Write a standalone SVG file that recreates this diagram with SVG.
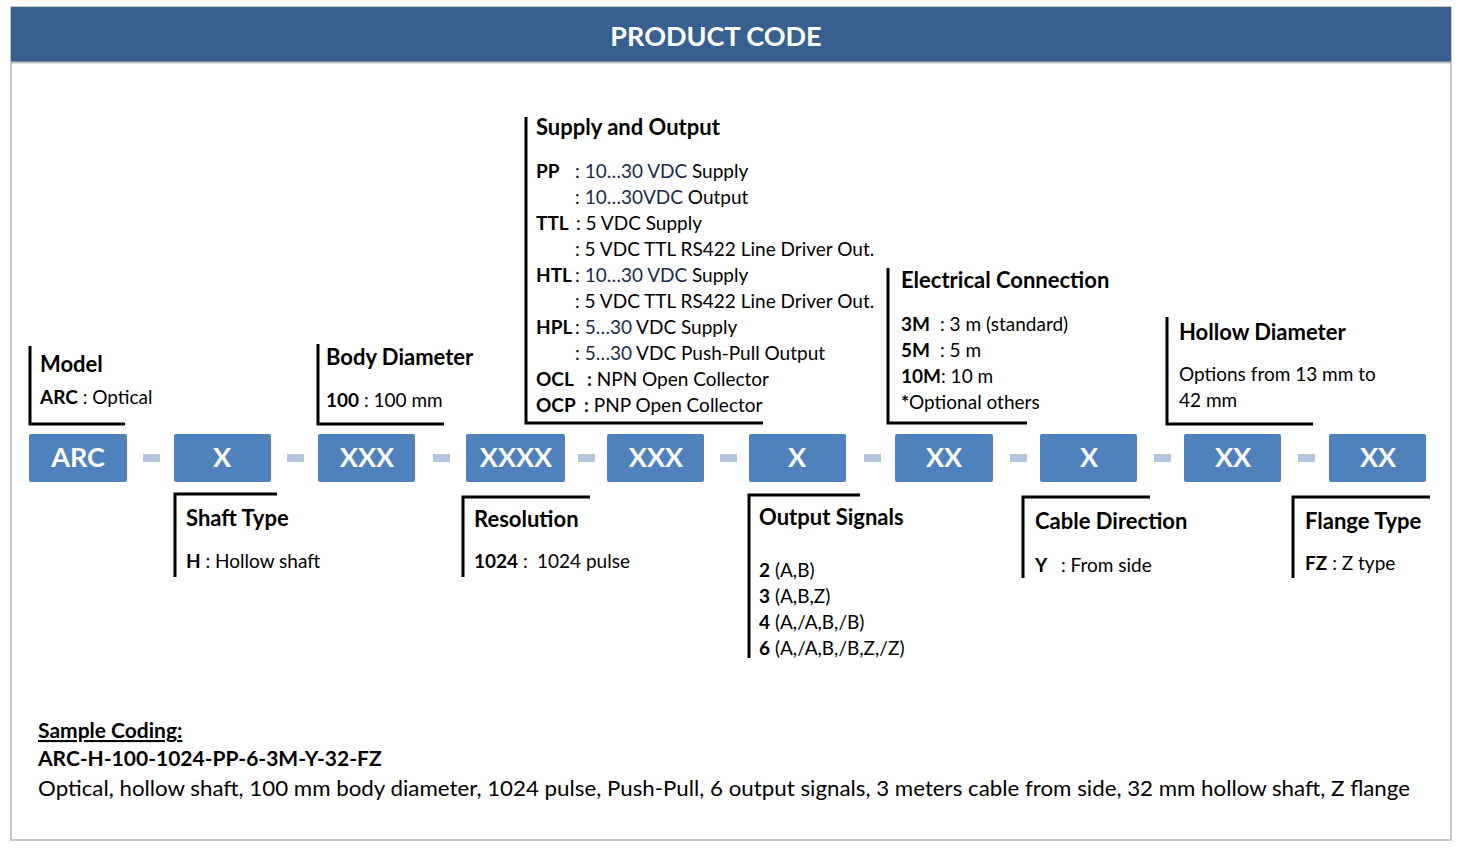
<svg xmlns="http://www.w3.org/2000/svg" width="1466" height="854" viewBox="0 0 1466 854">
<style>
text{font-family:Lato,"Open Sans","Liberation Sans",sans-serif;fill:#000}
.t{font-size:22px;font-weight:bold}
.b{font-size:19px}
.bd{font-weight:bold}
.n{fill:#1C2B4A}
.box{fill:#4F81BD}
.bl{font-size:27px;font-weight:bold;fill:#fff;text-anchor:middle}
.dash{fill:#B4C6DE}
.br{fill:none;stroke:#000;stroke-width:3}
</style>
<rect x="0" y="0" width="1466" height="854" fill="#fff"/>
<rect x="11" y="7" width="1440" height="833" fill="#fff" stroke="#C8C8C8" stroke-width="2"/>
<rect x="11" y="7" width="1440" height="55" fill="#37608F"/>
<line x1="11" y1="62.5" x2="1451" y2="62.5" stroke="#BDBDBD" stroke-width="2"/>
<text x="716" y="46" text-anchor="middle" style="font-size:27px;font-weight:bold;fill:#fff">PRODUCT CODE</text>

<g id="connectors">
<rect class="dash" x="143" y="454" width="17" height="8"/>
<rect class="dash" x="287" y="454" width="17" height="8"/>
<rect class="dash" x="433" y="454" width="17" height="8"/>
<rect class="dash" x="578" y="454" width="17" height="8"/>
<rect class="dash" x="720" y="454" width="17" height="8"/>
<rect class="dash" x="864" y="454" width="17" height="8"/>
<rect class="dash" x="1010" y="454" width="17" height="8"/>
<rect class="dash" x="1154" y="454" width="17" height="8"/>
<rect class="dash" x="1298" y="454" width="17" height="8"/>
</g>

<g id="code-boxes">
<g id="box-arc"><rect class="box" x="29" y="434" width="98" height="48" rx="2"/><text class="bl" x="78" y="467">ARC</text></g>
<g id="box-shaft"><rect class="box" x="174" y="434" width="97" height="48" rx="2"/><text class="bl" x="222" y="467">X</text></g>
<g id="box-body"><rect class="box" x="318" y="434" width="97" height="48" rx="2"/><text class="bl" x="367" y="467">XXX</text></g>
<g id="box-res"><rect class="box" x="466" y="434" width="99" height="48" rx="2"/><text class="bl" x="516" y="467">XXXX</text></g>
<g id="box-supply"><rect class="box" x="607" y="434" width="97" height="48" rx="2"/><text class="bl" x="656" y="467">XXX</text></g>
<g id="box-output"><rect class="box" x="749" y="434" width="97" height="48" rx="2"/><text class="bl" x="797" y="467">X</text></g>
<g id="box-elec"><rect class="box" x="895" y="434" width="98" height="48" rx="2"/><text class="bl" x="944" y="467">XX</text></g>
<g id="box-cable"><rect class="box" x="1040" y="434" width="97" height="48" rx="2"/><text class="bl" x="1089" y="467">X</text></g>
<g id="box-hollow"><rect class="box" x="1184" y="434" width="97" height="48" rx="2"/><text class="bl" x="1233" y="467">XX</text></g>
<g id="box-flange"><rect class="box" x="1329" y="434" width="97" height="48" rx="2"/><text class="bl" x="1378" y="467">XX</text></g>
</g>

<g id="model">
<path class="br" d="M30,346 V424 H125"/>
<text class="t" x="40" y="372">Model</text>
<text class="b" x="40" y="404"><tspan class="bd">ARC</tspan> : Optical</text>
</g>

<g id="body-diameter">
<path class="br" d="M318,344 V424 H444"/>
<text class="t" x="326" y="365">Body Diameter</text>
<text class="b" x="326" y="407"><tspan class="bd">100</tspan> : 100 mm</text>
</g>

<g id="supply-output">
<path class="br" d="M526,117 V423 H763"/>
<text class="t" x="536" y="135">Supply and Output</text>
<text class="b bd" x="536" y="178">PP</text><text class="b" x="575" y="178">: <tspan class="n">10…30 VDC</tspan> Supply</text>
<text class="b" x="575" y="204">: <tspan class="n">10…30VDC</tspan> Output</text>
<text class="b bd" x="536" y="230">TTL</text><text class="b" x="576" y="230">: 5 VDC Supply</text>
<text class="b" x="575" y="256">: 5 VDC TTL RS422 Line Driver Out.</text>
<text class="b bd" x="536" y="282">HTL</text><text class="b" x="575" y="282">: <tspan class="n">10…30 VDC</tspan> Supply</text>
<text class="b" x="575" y="308">: 5 VDC TTL RS422 Line Driver Out.</text>
<text class="b bd" x="536" y="334">HPL</text><text class="b" x="575" y="334">: <tspan class="n">5…30</tspan> VDC Supply</text>
<text class="b" x="575" y="360">: <tspan class="n">5…30</tspan> VDC Push-Pull Output</text>
<text class="b bd" x="536" y="386">OCL</text><text class="b" x="587" y="386"><tspan class="bd">:</tspan> NPN Open Collector</text>
<text class="b bd" x="536" y="412">OCP</text><text class="b" x="584" y="412"><tspan class="bd">:</tspan> PNP Open Collector</text>
</g>

<g id="electrical-connection">
<path class="br" d="M888,268 V423 H1027"/>
<text class="t" x="901" y="288">Electrical Connection</text>
<text class="b" x="901" y="331"><tspan class="bd">3M</tspan></text><text class="b" x="940" y="331">: 3 m (standard)</text>
<text class="b" x="901" y="357"><tspan class="bd">5M</tspan></text><text class="b" x="940" y="357">: 5 m</text>
<text class="b" x="901" y="383"><tspan class="bd">10M</tspan>: 10 m</text>
<text class="b" x="901" y="409"><tspan class="bd">*</tspan>Optional others</text>
</g>

<g id="hollow-diameter">
<path class="br" d="M1167,317 V424 H1313"/>
<text class="t" x="1179" y="340">Hollow Diameter</text>
<text class="b" x="1179" y="381">Options from 13 mm to</text>
<text class="b" x="1179" y="407">42 mm</text>
</g>

<g id="shaft-type">
<path class="br" d="M175,577 V494 H277"/>
<text class="t" x="186" y="526">Shaft Type</text>
<text class="b" x="186" y="568"><tspan class="bd">H</tspan> : Hollow shaft</text>
</g>

<g id="resolution">
<path class="br" d="M463,577 V497 H590"/>
<text class="t" x="474" y="527">Resolution</text>
<text class="b" x="474" y="568"><tspan class="bd">1024</tspan> :</text><text class="b" x="537" y="568">1024 pulse</text>
</g>

<g id="output-signals">
<path class="br" d="M749,658 V495 H860"/>
<text class="t" x="759" y="525">Output Signals</text>
<text class="b" x="759" y="577"><tspan class="bd">2</tspan> (A,B)</text>
<text class="b" x="759" y="603"><tspan class="bd">3</tspan> (A,B,Z)</text>
<text class="b" x="759" y="629"><tspan class="bd">4</tspan> (A,/A,B,/B)</text>
<text class="b" x="759" y="655"><tspan class="bd">6</tspan> (A,/A,B,/B,Z,/Z)</text>
</g>

<g id="cable-direction">
<path class="br" d="M1023,578 V497 H1150"/>
<text class="t" x="1035" y="529">Cable Direction</text>
<text class="b" x="1035" y="572"><tspan class="bd">Y</tspan></text><text class="b" x="1061" y="572">: From side</text>
</g>

<g id="flange-type">
<path class="br" d="M1293,578 V497 H1430"/>
<text class="t" x="1305" y="529">Flange Type</text>
<text class="b" x="1305" y="570"><tspan class="bd">FZ</tspan> : Z type</text>
</g>

<g id="sample-coding">
<text x="38" y="738" style="font-size:21px;font-weight:bold;text-decoration:underline">Sample Coding:</text>
<text x="38" y="766" style="font-size:21px;font-weight:bold">ARC-H-100-1024-PP-6-3M-Y-32-FZ</text>
<text x="38" y="796" style="font-size:21px" textLength="1372" lengthAdjust="spacingAndGlyphs">Optical, hollow shaft, 100 mm body diameter, 1024 pulse, Push-Pull, 6 output signals, 3 meters cable from side, 32 mm hollow shaft, Z flange</text>
</g>
</svg>
